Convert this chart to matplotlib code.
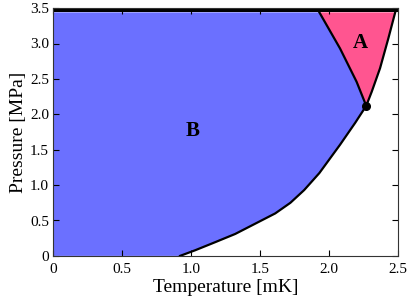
import numpy as np
import matplotlib.pyplot as plt

plt.rcParams['font.family'] = ['Liberation Serif', 'DejaVu Serif']

# transition curve into the superfluid phase (T in mK, P in MPa)
tc_T = [0.92, 1.03, 1.17, 1.32, 1.46, 1.61, 1.72, 1.82, 1.93, 2.08, 2.19, 2.27]
tc_P = [0.0, 0.08, 0.19, 0.31, 0.45, 0.60, 0.75, 0.93, 1.17, 1.57, 1.88, 2.12]
# A-B boundary, from the polycritical point up to melting
ab_T = [2.27, 2.20, 2.08, 1.93]
ab_P = [2.12, 2.46, 2.93, 3.44]
# upper part of the normal-superfluid line (edge of A)
na_T = [2.27, 2.31, 2.37, 2.43, 2.48]
na_P = [2.12, 2.32, 2.65, 3.07, 3.44]
p_melt = 3.44
p_top = 3.5

fig = plt.figure(figsize=(4.09, 3.0), dpi=100)
ax = fig.add_axes([0.130, 0.147, 0.843, 0.826])

blue = '#6b70ff'
pink = '#ff5590'

# B phase
bx = [0] + tc_T + ab_T[1:] + [0]
by = [0] + tc_P + ab_P[1:] + [p_melt]
ax.fill(bx, by, color=blue, lw=0)
# A phase
axx = ab_T + na_T[::-1]
ayy = ab_P + na_P[::-1]
ax.fill(axx, ayy, color=pink, lw=0)

# solid at the top
ax.fill_between([0, 2.5], p_melt, p_top, color='black', lw=0)

ax.plot(tc_T, tc_P, color='black', lw=1.6, solid_joinstyle='round')
ax.plot(ab_T, ab_P, color='black', lw=1.6, solid_joinstyle='round')
ax.plot(na_T, na_P, color='black', lw=1.6, solid_joinstyle='round')
ax.plot([tc_T[-1]], [tc_P[-1]], 'o', color='black', ms=5.5)

ax.text(2.23, 3.0, 'A', fontsize=15, fontweight='bold', ha='center', va='center')
ax.text(1.01, 1.76, 'B', fontsize=15, fontweight='bold', ha='center', va='center')

ax.set_xlim(0, 2.5)
ax.set_ylim(0, 3.5)
ax.set_xticks([0, 0.5, 1.0, 1.5, 2.0, 2.5])
ax.set_xticklabels(['0', '0.5', '1.0', '1.5', '2.0', '2.5'])
ax.set_yticks([0, 0.5, 1.0, 1.5, 2.0, 2.5, 3.0, 3.5])
ax.set_yticklabels(['0', '0.5', '1.0', '1.5', '2.0', '2.5', '3.0', '3.5'])
ax.tick_params(direction='in', top=True, right=True, labelsize=11, length=4, pad=3)
ax.tick_params(axis='x', pad=5)
for s in ax.spines.values():
    s.set_color('#333333')
ax.set_xlabel('Temperature [mK]', fontsize=14, labelpad=2)
ax.set_ylabel('Pressure [MPa]', fontsize=14, labelpad=2)

fig.savefig('out.png', dpi=100)
